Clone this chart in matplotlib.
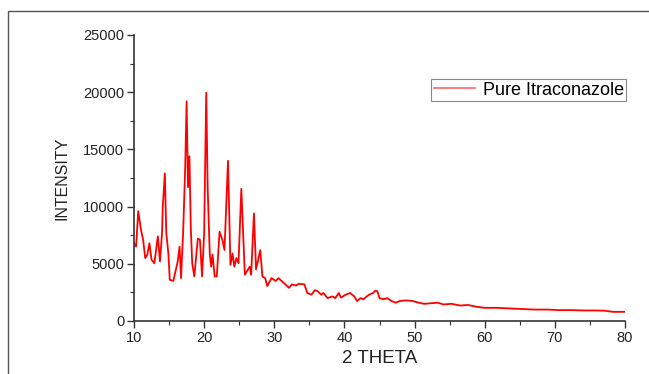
import matplotlib
matplotlib.use("Agg")
import matplotlib.pyplot as plt
from matplotlib.ticker import MultipleLocator
from matplotlib.patches import Rectangle

plt.rcParams['font.family'] = ['Liberation Sans', 'DejaVu Sans']

# XRD pattern (2 theta, intensity)
two_theta = [
    10.0, 10.3, 10.6, 11.0, 11.3, 11.6, 11.9, 12.2, 12.5, 12.9, 13.4, 13.7,
    14.0, 14.1, 14.4, 14.6, 14.9, 15.1, 15.6, 16.2, 16.5, 16.7, 17.0, 17.3,
    17.5, 17.7, 17.9, 18.1, 18.3, 18.6, 18.9, 19.1, 19.4, 19.7, 20.0, 20.3,
    20.5, 20.8, 21.0, 21.2, 21.5, 21.8, 22.2, 22.6, 22.9, 23.4, 23.75, 24.05,
    24.3, 24.6, 24.9, 25.3, 25.8, 26.1, 26.5, 26.7, 27.1, 27.4, 28.0, 28.3,
    28.7, 29.0, 29.6, 30.2, 30.6, 31.4, 32.1, 32.5, 33.1, 33.5, 34.3, 34.7,
    35.3, 35.8, 36.2, 36.7, 37.0, 37.6, 38.3, 38.7, 39.2, 39.5, 40.2, 40.8,
    41.4, 41.8, 42.3, 42.7, 43.5, 44.1, 44.4, 44.7, 45.0, 45.6, 46.1, 46.7,
    47.3, 47.9, 48.8, 49.7, 50.6, 51.4, 52.3, 53.3, 54.1, 55.3, 56.5, 57.6,
    58.8, 60.0, 61.8, 63.5, 65.3, 67.1, 68.9, 70.6, 72.4, 74.2, 75.9, 77.1,
    78.3, 80.0,
]
intensity = [
    6800, 6500, 9600, 7950, 7100, 5500, 5800, 6800, 5350, 5050, 7400, 5200,
    7700, 10000, 12900, 7700, 5900, 3600, 3500, 5100, 6500, 3750, 7650, 13400,
    19200, 11700, 14400, 8100, 5050, 3900, 5900, 7200, 7100, 3900, 7650, 19950,
    11700, 5900, 4750, 5800, 3900, 3900, 7800, 7100, 6200, 14000, 4900, 5900,
    4750, 5500, 5050, 11550, 4050, 4350, 4750, 4050, 9400, 4500, 6200, 3900,
    3750, 3050, 3750, 3500, 3750, 3300, 2900, 3200, 3100, 3250, 3200, 2450,
    2300, 2700, 2600, 2300, 2450, 2000, 2150, 2000, 2450, 2050, 2300, 2450,
    2150, 1750, 2000, 1900, 2300, 2450, 2650, 2600, 2000, 1900, 2000, 1750,
    1600, 1750, 1800, 1750, 1600, 1500, 1550, 1600, 1450, 1500, 1350, 1400,
    1250, 1150, 1150, 1100, 1050, 1000, 1000, 950, 950, 920, 920, 900,
    800, 800,
]

fig = plt.figure(figsize=(6.49, 3.74), dpi=100)

# thin frame around the picture (right and bottom edges fall outside)
fig.patches.append(Rectangle((8 / 649, -0.1), 1.2, 1.1 - 11 / 374,
                             transform=fig.transFigure, fill=False,
                             edgecolor='#555555', linewidth=1.0))

ax = fig.add_axes([134 / 649, 53 / 374, 491 / 649, 286 / 374])
ax.plot(two_theta, intensity, color='red', linewidth=1.3, label='Pure Itraconazole')

ax.set_xlim(10, 80)
ax.set_ylim(0, 25000)
ax.xaxis.set_major_locator(MultipleLocator(10))
ax.xaxis.set_minor_locator(MultipleLocator(5))
ax.yaxis.set_major_locator(MultipleLocator(5000))
ax.yaxis.set_minor_locator(MultipleLocator(2500))
ax.spines['top'].set_visible(False)
ax.spines['right'].set_visible(False)
for s in ('left', 'bottom'):
    ax.spines[s].set_color('#333333')
    ax.spines[s].set_linewidth(1.2)
ax.tick_params(which='major', direction='out', length=5, width=1.0,
               color='#333333', labelsize=10.5, labelcolor='#222222', pad=2)
ax.tick_params(which='minor', direction='out', length=3, width=0.8, color='#333333')

ax.set_xlabel('2 THETA', fontsize=13.5, color='#222222', labelpad=4)
ax.set_ylabel('INTENSITY', fontsize=11.5, color='#222222', labelpad=10)

leg = ax.legend(loc='upper right', bbox_to_anchor=(1.003, 0.846), fontsize=13,
                fancybox=False, framealpha=1, edgecolor='#888888',
                handlelength=2.3, borderpad=0.15, handletextpad=0.4,
                borderaxespad=0)
leg.get_frame().set_linewidth(0.8)
leg.get_lines()[0].set_color('#ff7070')

fig.savefig('out.png', dpi=100)
